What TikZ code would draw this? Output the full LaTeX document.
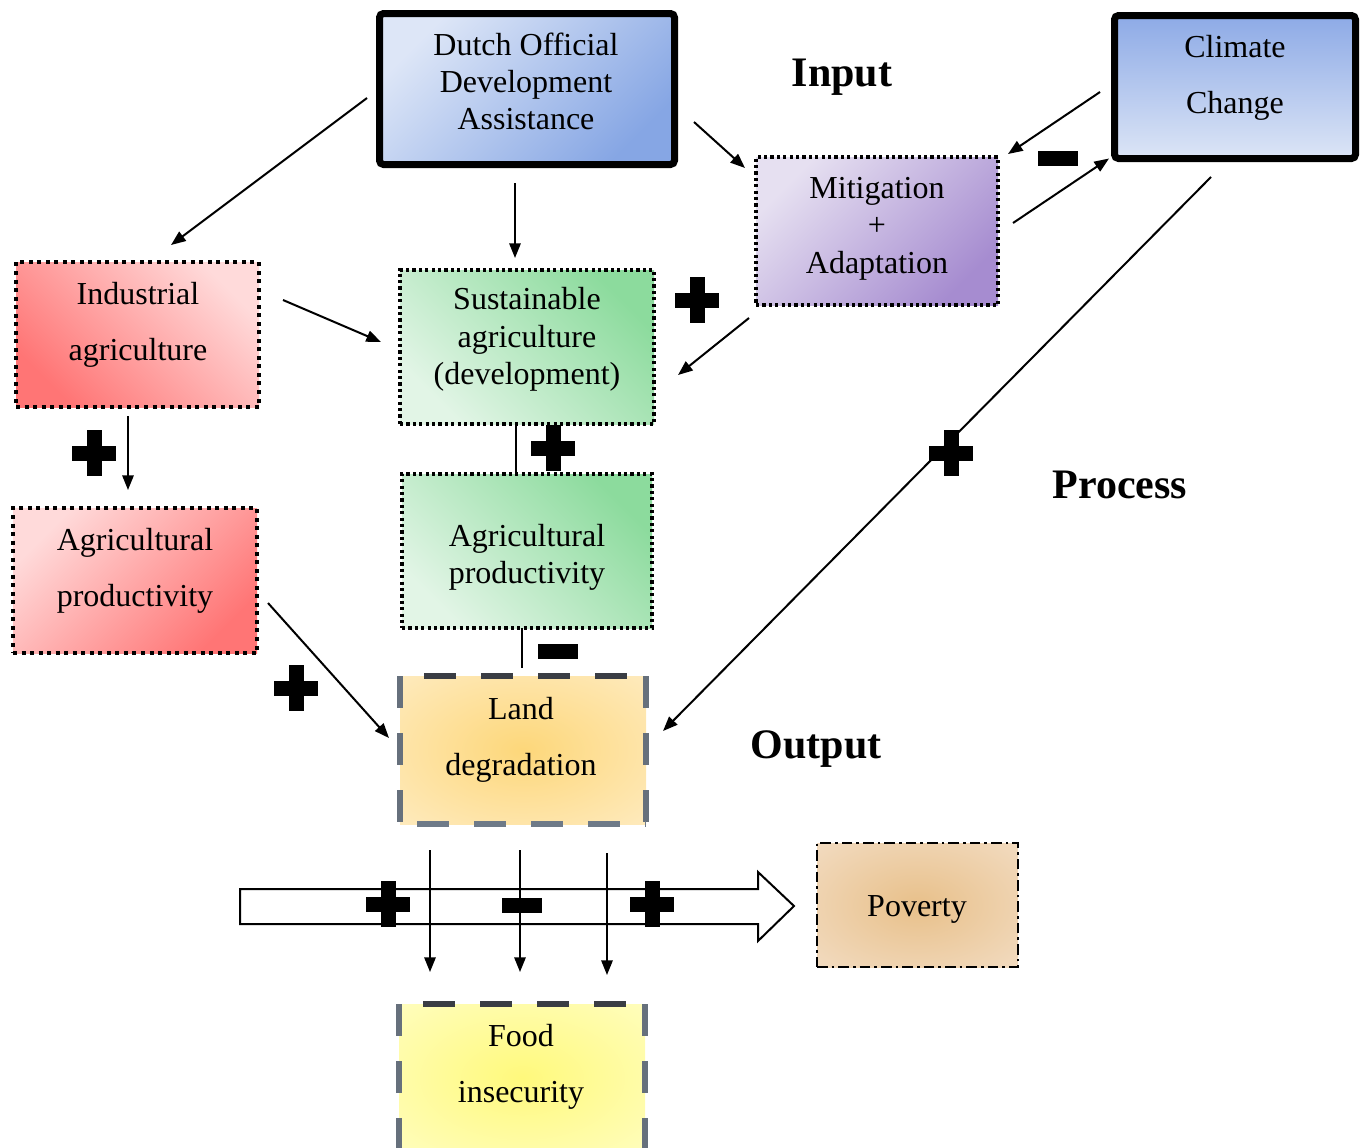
\documentclass[tikz,border=0pt]{standalone}
\usepackage{fontspec}
\setmainfont{Liberation Serif}
\usetikzlibrary{calc,arrows.meta}

\definecolor{odaA}{HTML}{DDE6F7}
\definecolor{odaB}{HTML}{86A6E4}
\definecolor{ccTop}{HTML}{8DAAE6}
\definecolor{ccBot}{HTML}{DCE5F6}
\definecolor{mitA}{HTML}{E6E0F1}
\definecolor{mitB}{HTML}{A68CD0}
\definecolor{redA}{HTML}{FFDADA}
\definecolor{redB}{HTML}{FF7575}
\definecolor{grnA}{HTML}{E2F5E6}
\definecolor{grnB}{HTML}{8CDB9D}
\definecolor{edgeTop}{HTML}{3A3D44}
\definecolor{edgeSide}{HTML}{66707C}
\definecolor{edgeBot}{HTML}{6E7A88}
\definecolor{landIn}{HTML}{FDD77A}
\definecolor{landOut}{HTML}{FFF2D8}
\definecolor{landFar}{HTML}{FFF6E2}
\definecolor{foodIn}{HTML}{FFF97C}
\definecolor{foodOut}{HTML}{FFFFD6}
\definecolor{foodFar}{HTML}{FFFFE0}
\definecolor{povIn}{HTML}{E8C08A}
\definecolor{povOut}{HTML}{F6E6D6}
\definecolor{povFar}{HTML}{F8ECE0}

\pgfdeclareradialshading{landshade}{\pgfpoint{0bp}{0bp}}{color(0bp)=(landIn); color(50bp)=(landOut); color(75bp)=(landFar)}
\pgfdeclareradialshading{foodshade}{\pgfpoint{0bp}{0bp}}{color(0bp)=(foodIn); color(50bp)=(foodOut); color(75bp)=(foodFar)}
\pgfdeclareradialshading{povshade}{\pgfpoint{0bp}{0bp}}{color(0bp)=(povIn); color(50bp)=(povOut); color(75bp)=(povFar)}

\tikzset{
  box/.style={rectangle, outer sep=0pt, inner sep=0pt},
  thickbox/.style={box, draw=black, line width=5.25pt, rounded corners=3pt},
  dotbox/.style={box, draw=black, line width=2.4pt, line cap=butt, dash pattern=on 2.4pt off 2.4pt},
  bigdotbox/.style={box, draw=black, line width=3pt, line cap=butt, dash pattern=on 3pt off 3.4pt},
  dashedge/.style={line width=4.5pt, line cap=butt, dash pattern=on 24pt off 18.75pt},
  dashdotbox/.style={box, draw=black, line width=2.2pt, dash pattern=on 8pt off 3pt on 2pt off 3pt},
  txt/.style={align=center, inner sep=0pt, font=\fontsize{24}{28}\selectfont},
  txtwide/.style={align=center, inner sep=0pt, font=\fontsize{24}{42}\selectfont},
  hdr/.style={inner sep=0pt, font=\bfseries\fontsize{31.5}{36}\selectfont},
  arr/.style={-{Triangle[length=11pt,width=8.5pt]}, line width=1.5pt},
  link/.style={line width=1pt},
  plusmark/.pic={\fill (-22,-7.5) rectangle (22,7.5); \fill (-7.5,-23) rectangle (7.5,23);},
  minusmark/.pic={\fill (-20,-7.5) rectangle (20,7.5);}
}

\begin{document}
\begin{tikzpicture}[x=0.75pt,y=-0.75pt]
\useasboundingbox (0,0) rectangle (1363,1147);
\clip (0,0) rectangle (1363,1147);

% boxes
\node[thickbox, minimum width=221.25pt, minimum height=113.25pt, top color=odaA, bottom color=odaB, shading angle=45] (doda) at (527,89) {};
\node[thickbox, minimum width=180.75pt, minimum height=107.25pt, top color=ccTop, bottom color=ccBot] (clim) at (1235,87) {};
\node[dotbox, minimum width=181.5pt, minimum height=111pt, top color=mitA, bottom color=mitB, shading angle=45] (mit) at (877,231) {};
\node[bigdotbox, minimum width=182.25pt, minimum height=108.75pt, top color=redA, bottom color=redB, shading angle=-45] (ind) at (137.5,334.5) {};
\node[dotbox, minimum width=190.5pt, minimum height=115.5pt, top color=grnB, bottom color=grnA, shading angle=-45] (sus) at (527,347) {};
\node[bigdotbox, minimum width=183pt, minimum height=108.75pt, top color=redA, bottom color=redB, shading angle=45] (ragri) at (135,580.5) {};
\node[dotbox, minimum width=187.5pt, minimum height=115.5pt, top color=grnB, bottom color=grnA, shading angle=-45] (gagri) at (527,551) {};
\node[box, minimum width=184.5pt, minimum height=111pt, shading=landshade] (land) at (523,750) {};
\node[box, minimum width=184.5pt, minimum height=111pt, shading=foodshade] (food) at (522,1078) {};
\node[dashdotbox, minimum width=150.75pt, minimum height=93pt, shading=povshade] (pov) at (917.5,905) {};

% dashed borders of land and food
\foreach \b in {land,food}{
  \draw[dashedge, draw=edgeTop, dash phase=24.75pt] (\b.north west) -- (\b.north east);
  \draw[dashedge, draw=edgeSide] (\b.north west) -- (\b.south west);
  \draw[dashedge, draw=edgeSide] (\b.north east) -- (\b.south east);
  \draw[dashedge, draw=edgeBot, dash phase=30pt] (\b.south west) -- (\b.south east);
}

% texts
\node[txt] (doda-t) at (526,81.5) {Dutch Official\\Development\\Assistance};
\node[txtwide] (clim-t) at (1235,78) {Climate\\Change};
\node[txt] (mit-t) at (877,228.5) {Mitigation\\+\\Adaptation};
\node[txtwide] (ind-t) at (138,324.5) {Industrial\\agriculture};
\node[txt] (sus-t) at (527,339.5) {Sustainable\\agriculture\\(development)};
\node[txtwide] (ragri-t) at (135,571) {Agricultural\\productivity};
\node[txt] (gagri-t) at (527,557.5) {Agricultural\\productivity};
\node[txtwide] (land-t) at (521,740) {Land\\degradation};
\node[txtwide] (food-t) at (521,1067) {Food\\insecurity};
\node[txt] (pov-t) at (917,909) {Poverty};

% headers
\node[hdr] (in-h) at (842,77) {Input};
\node[hdr] (pr-h) at (1120,485) {Process};
\node[hdr] (out-h) at (816,749) {Output};

% big hollow arrow into poverty
\coordinate (ptip) at ($(pov.west)+(-23,1)$);
\draw[line width=1.5pt, fill=white, line join=miter] (ptip) -- ++(-36,-34) -- ++(0,17) -- ++(-518,0) -- ++(0,35) -- ++(518,0) -- ++(0,17) -- cycle;

% connectors
\draw[arr] ($(doda.west)+(-12.5,9)$) -- ($(ind.north)+(33.5,-17)$);
\draw[arr] ($(doda.south)+(-12,18.5)$) -- ($(sus.north)+(-12,-12)$);
\draw[arr] ($(doda.east)+(19.5,33)$) -- ($(mit.west)+(-11,-63)$);
\draw[arr] ($(clim.west)+(-14.5,5)$) -- ($(mit.north east)+(10,-3)$);
\draw[arr] ($(mit.east)+(15,-8)$) -- ($(clim.south west)+(-5.5,0)$);
\draw[arr] ($(mit.south west)+(-7,13)$) -- ($(sus.east)+(24,28)$);
\draw[arr] ($(ind.east)+(24,-34.5)$) -- ($(sus.west)+(-19,-5)$);
\draw[arr] ($(ind.south)+(-9.5,9)$) -- ($(ragri.north)+(-7,-18)$);
\draw[link] ($(sus.south)+(-11,0)$) -- ($(gagri.north)+(-11,0)$);
\draw[link] ($(gagri.south)+(-5,0)$) -- ($(land.north)+(-1,-8)$);
\draw[arr] ($(ragri.east)+(11,22.5)$) -- ($(land.west)+(-11,-12)$);
\draw[arr] ($(clim.south)+(-24,18.5)$) -- ($(land.east)+(17,-19)$);
\draw[arr] ($(land.south)+(-93,26)$) -- ($(food.north)+(-92,-32)$);
\draw[arr] ($(land.south)+(-3,26)$) -- ($(food.north)+(-2,-32)$);
\draw[arr] ($(land.south)+(84,29)$) -- ($(food.north)+(85,-29)$);

% signs
\pic (s1) at (697,300) {plusmark};
\pic (s2) at (1058,158) {minusmark};
\pic (s3) at (94,453) {plusmark};
\pic (s4) at (553,448) {plusmark};
\pic (s5) at (558,651) {minusmark};
\pic (s6) at (296,688) {plusmark};
\pic (s7) at (951,453) {plusmark};
\pic (s8) at (388,904) {plusmark};
\pic (s9) at (522,905) {minusmark};
\pic (s10) at (652,904) {plusmark};
\end{tikzpicture}
\end{document}
